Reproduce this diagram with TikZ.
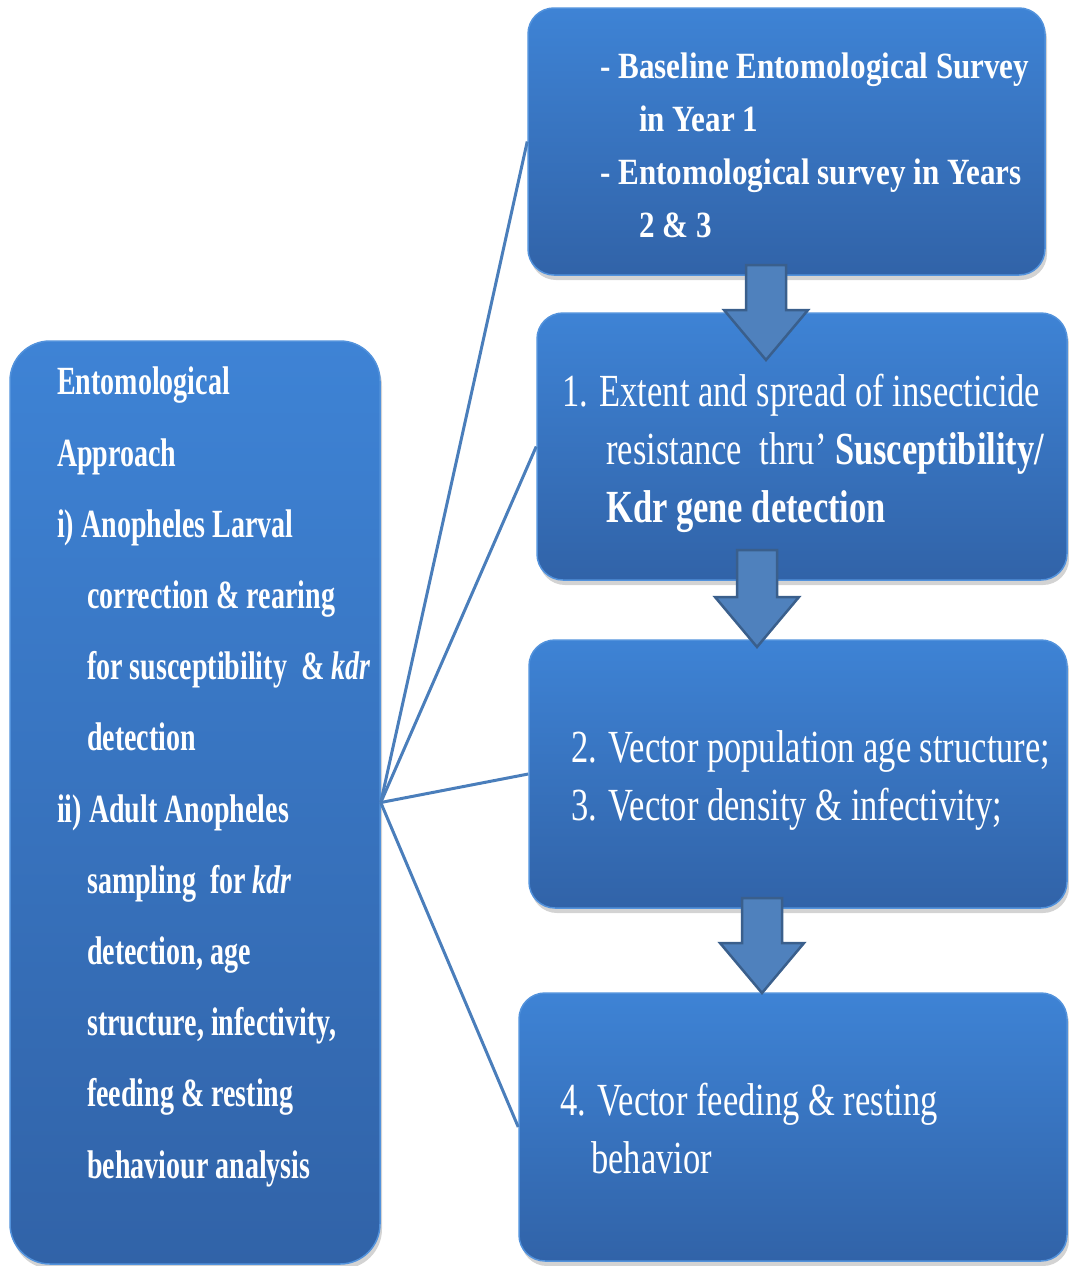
\documentclass[tikz,border=0pt]{standalone}
\usepackage{fontspec}
\setmainfont{Liberation Serif}
\newfontfamily\leftfont[FakeStretch=0.70]{Liberation Serif}
\newfontfamily\surveyfont[FakeStretch=0.84]{Liberation Serif}
\newfontfamily\stepfont[FakeStretch=0.75]{Liberation Serif}
\usetikzlibrary{shadows}

\begin{document}
\begin{tikzpicture}[x=1pt,y=1pt,
  mybox/.style={rounded corners=26pt,top color=boxtop,bottom color=boxbot,draw=boxrim,line width=1.5pt,
    drop shadow={shadow xshift=2pt,shadow yshift=-5pt,opacity=0.35}},
  mytext/.style={text=white,align=left,anchor=base west,inner sep=0pt},
  mylink/.style={draw=linkblue,line width=3pt},
  myarrow/.style={fill=arrowfill,draw=arrowline,line width=2.5pt,line join=miter}]
\definecolor{boxtop}{HTML}{3E83D5}
\definecolor{boxbot}{HTML}{3163A8}
\definecolor{boxrim}{HTML}{5292DC}
\definecolor{linkblue}{HTML}{4A7EBB}
\definecolor{arrowfill}{HTML}{4F81BD}
\definecolor{arrowline}{HTML}{3A5F8C}
\useasboundingbox (0,0) rectangle (1068,-1266);

% boxes
\node [mybox,rounded corners=40pt,minimum width=370pt,minimum height=923pt] (approach) at (195,-802.5) {};
\node [mybox,minimum width=517pt,minimum height=267pt] (survey) at (786.5,-141.5) {};
\node [mybox,minimum width=530pt,minimum height=267pt] (resist) at (802,-446.5) {};
\node [mybox,minimum width=538pt,minimum height=268pt] (agestr) at (798,-774) {};
\node [mybox,minimum width=548pt,minimum height=268pt] (feeding) at (793,-1127) {};

% links from the approach box
\foreach \target in {survey,resist,agestr,feeding}
  {  \draw [mylink] (approach.east) -- (\target.west);}

% block arrows
\foreach \ax/\atop/\atip in {766/265/360,757/550/647,762/898/993}
  {  \draw [myarrow] ({\ax-20},-\atop) -- ({\ax+20},-\atop) -- ({\ax+20},{-\atip+50})
       -- ({\ax+42},{-\atip+50}) -- (\ax,-\atip) -- ({\ax-42},{-\atip+50})
       -- ({\ax-20},{-\atip+50}) -- cycle;}

% texts (anchored at the baseline of their last line)
\node [mytext,font=\leftfont\bfseries\fontsize{40}{71.2}\selectfont] (approachtxt) at (57,-1178)
  {Entomological\\Approach\\i) Anopheles Larval\\
   \hspace*{30pt}correction \& rearing\\
   \hspace*{30pt}for susceptibility \ \& \textit{kdr}\\
   \hspace*{30pt}detection\\
   ii) Adult Anopheles\\
   \hspace*{30pt}sampling \ for \textit{kdr}\\
   \hspace*{30pt}detection, age\\
   \hspace*{30pt}structure, infectivity,\\
   \hspace*{30pt}feeding \& resting\\
   \hspace*{30pt}behaviour analysis};
\node [mytext,font=\surveyfont\bfseries\fontsize{37}{53}\selectfont] (surveytxt) at (600,-237)
  {- Baseline Entomological Survey\\\hspace*{39pt}in Year 1\\
   - Entomological survey in Years\\\hspace*{39pt}2 \& 3};
\node [mytext,font=\stepfont\fontsize{46}{58}\selectfont] (resisttxt) at (562,-522)
  {1. Extent and spread of insecticide\\
   \hspace*{44pt}resistance \ thru’ \textbf{Susceptibility/}\\
   \hspace*{44pt}\textbf{Kdr gene detection}};
\node [mytext,font=\stepfont\fontsize{46}{58}\selectfont] (agestrtxt) at (571,-820)
  {2. Vector population age structure;\\3. Vector density \& infectivity;};
\node [mytext,font=\stepfont\fontsize{46}{58}\selectfont] (feedingtxt) at (560,-1173)
  {4. Vector feeding \& resting\\\hspace*{31pt}behavior};
\end{tikzpicture}
\end{document}
